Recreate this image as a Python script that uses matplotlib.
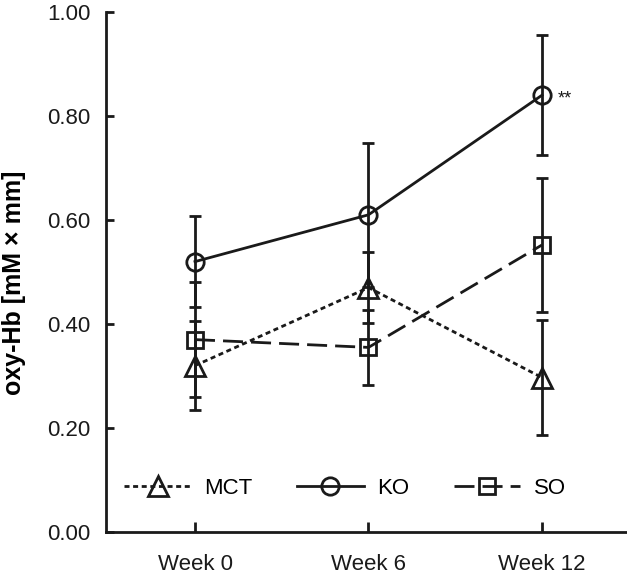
import matplotlib
matplotlib.use("Agg")
import matplotlib.pyplot as plt
import numpy as np

plt.rcParams['font.family'] = ['Liberation Sans', 'DejaVu Sans']

weeks = ["Week 0", "Week 6", "Week 12"]
mct = [0.32, 0.47, 0.297]
mct_err = [0.085, 0.068, 0.11]
ko = [0.52, 0.61, 0.84]
ko_err = [0.087, 0.138, 0.115]
so = [0.37, 0.355, 0.552]
so_err = [0.11, 0.072, 0.128]
yticks = [0.0, 0.2, 0.4, 0.6, 0.8, 1.0]

col = '#1a1a1a'
lw = 2.0

fig = plt.figure(figsize=(6.27, 5.76), dpi=100)
ax = fig.add_axes([106/627, 44/576, 1 - 106/627, 520/576])
x = np.arange(len(weeks))

common = dict(color=col, lw=lw, elinewidth=lw, capthick=lw, capsize=4.5,
              mfc='none', mec=col, mew=lw)
h1 = ax.errorbar(x, mct, yerr=mct_err, marker='^', ms=15,
                 dashes=(1.8, 1.3), label='MCT', **common)
h2 = ax.errorbar(x, ko, yerr=ko_err, marker='o', ms=12.5,
                 ls='-', label='KO', **common)
h3 = ax.errorbar(x, so, yerr=so_err, marker='s', ms=11,
                 dashes=(7.2, 2.9), label='SO', **common)

ax.text(x[2] + 0.09, ko[2] - 0.008, '**', fontsize=13, va='center', ha='left', color=col)

ax.set_xlim(-0.513, 2.49)
ax.set_ylim(0, 1.0)
ax.set_xticks(x)
ax.set_xticklabels(weeks)
ax.set_yticks(yticks)
ax.set_yticklabels([f"{v:.2f}" for v in yticks])
for s in ['top', 'right']:
    ax.spines[s].set_visible(False)
for s in ['left', 'bottom']:
    ax.spines[s].set_linewidth(lw)
    ax.spines[s].set_color(col)
ax.tick_params(axis='y', direction='in', length=6, width=lw, pad=11,
               labelsize=16, colors=col)
ax.tick_params(axis='x', direction='in', length=7, width=lw, pad=16,
               labelsize=16, colors=col)
ax.set_ylabel('oxy-Hb [mM × mm]', fontsize=18, fontweight='bold')
ax.yaxis.set_label_coords(-0.153, 0.479)

leg = ax.legend(handles=[h1.lines[0], h2.lines[0], h3.lines[0]],
                labels=['MCT', 'KO', 'SO'], loc='center',
                bbox_to_anchor=(0.459, (532-488)/520),
                ncol=3, frameon=False, fontsize=16, handlelength=3.0,
                handletextpad=0.6, columnspacing=2.0, borderaxespad=0)
fig.savefig('out.png', dpi=100)
